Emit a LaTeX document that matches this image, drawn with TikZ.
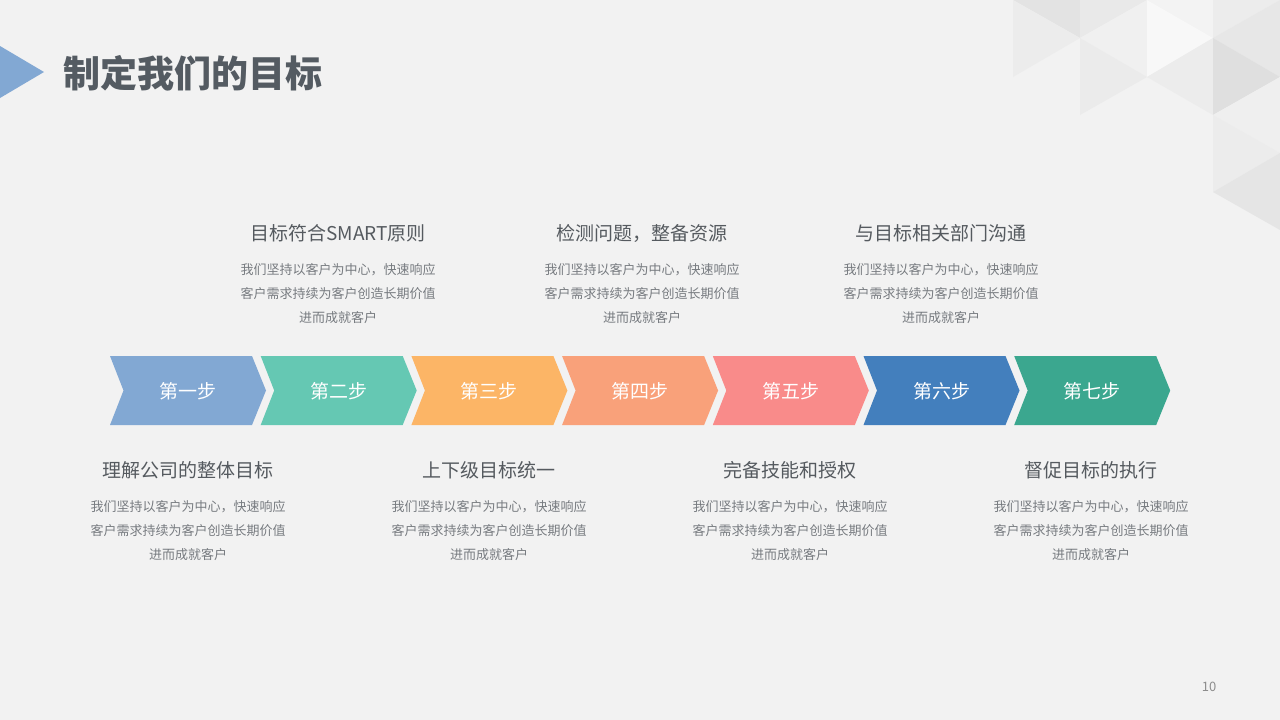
\documentclass[tikz,border=0pt]{standalone}
\usepackage{fontspec}
\setmainfont{Noto Sans CJK SC}
\definecolor{bg}{HTML}{F2F2F2}
\definecolor{c1}{HTML}{82A8D3}
\definecolor{c2}{HTML}{65C8B3}
\definecolor{c3}{HTML}{FCB566}
\definecolor{c4}{HTML}{F9A17A}
\definecolor{c5}{HTML}{F98B8A}
\definecolor{c6}{HTML}{437FBD}
\definecolor{c7}{HTML}{3BA78F}
\definecolor{titlecol}{HTML}{545B62}
\definecolor{headcol}{HTML}{555A5F}
\definecolor{bodycol}{HTML}{777B80}
\definecolor{pagecol}{HTML}{8C8C8C}
\tikzset{
  steplabel/.style={text=white,font=\fontsize{19}{22}\selectfont,inner sep=0pt},
  headtext/.style={text=headcol,font=\fontsize{19}{22}\selectfont,inner sep=0pt},
  bodytext/.style={text=bodycol,font=\fontsize{13}{24}\selectfont,align=center,inner sep=0pt},
}
\begin{document}
\begin{tikzpicture}[x=1pt,y=-1pt]
\fill[bg] (0,0) rectangle (1280,720);
\useasboundingbox (0,0) rectangle (1280,720);
% decorative triangles, top right
\fill[fill={rgb,255:red,227;green,227;blue,227}] (1013,0) -- (1080,0) -- (1080,38) -- cycle;
\fill[fill={rgb,255:red,236;green,236;blue,236}] (1013,0) -- (1013,77) -- (1080,38) -- cycle;
\fill[fill={rgb,255:red,233;green,233;blue,233}] (1080,0) -- (1080,38) -- (1147,0) -- cycle;
\fill[fill={rgb,255:red,240;green,240;blue,240}] (1147,0) -- (1147,77) -- (1080,38) -- cycle;
\fill[fill={rgb,255:red,235;green,235;blue,235}] (1080,38) -- (1080,115) -- (1147,77) -- cycle;
\fill[fill={rgb,255:red,243;green,243;blue,243}] (1147,0) -- (1213,0) -- (1213,38) -- cycle;
\fill[fill={rgb,255:red,248;green,248;blue,248}] (1147,0) -- (1147,77) -- (1213,38) -- cycle;
\fill[fill={rgb,255:red,236;green,236;blue,236}] (1213,38) -- (1213,115) -- (1147,77) -- cycle;
\fill[fill={rgb,255:red,236;green,236;blue,236}] (1213,0) -- (1280,0) -- (1213,38) -- cycle;
\fill[fill={rgb,255:red,231;green,231;blue,231}] (1213,38) -- (1280,0) -- (1280,77) -- cycle;
\fill[fill={rgb,255:red,223;green,223;blue,223}] (1213,38) -- (1213,115) -- (1280,77) -- cycle;
\fill[fill={rgb,255:red,239;green,239;blue,239}] (1213,115) -- (1280,77) -- (1280,153) -- cycle;
\fill[fill={rgb,255:red,236;green,236;blue,236}] (1213,115) -- (1213,192) -- (1280,153) -- cycle;
\fill[fill={rgb,255:red,229;green,229;blue,229}] (1213,192) -- (1280,153) -- (1280,230) -- cycle;
% title
\fill[c1] (0,46) -- (44,72) -- (0,98) -- cycle;
\node[anchor=west,text=titlecol,font=\fontsize{37}{40}\selectfont\bfseries,inner sep=0pt] (title) at (63,73) {制定我们的目标};
% chevrons
\foreach \i/\c/\t in {0/c1/第一步,1/c2/第二步,2/c3/第三步,3/c4/第四步,4/c5/第五步,5/c6/第六步,6/c7/第七步}{
  \pgfmathsetmacro\xl{110+150.7*\i}
  \fill[\c] (\xl,356) -- ++(142,0) -- ++(14,34.5) -- ++(-14,34.5) -- ++(-142,0) -- ++(13.5,-34.5) -- cycle;
  \node[steplabel] (s\i) at (\xl+78,391) {\t};
}
% top texts
\node[headtext] (h2) at (338,233) {目标符合SMART原则};
\node[bodytext] (b2) at (338,294) {我们坚持以客户为中心，快速响应\\客户需求持续为客户创造长期价值\\进而成就客户};
\node[headtext] (h4) at (642,233) {检测问题，整备资源};
\node[bodytext] (b4) at (642,294) {我们坚持以客户为中心，快速响应\\客户需求持续为客户创造长期价值\\进而成就客户};
\node[headtext] (h6) at (941,233) {与目标相关部门沟通};
\node[bodytext] (b6) at (941,294) {我们坚持以客户为中心，快速响应\\客户需求持续为客户创造长期价值\\进而成就客户};
% bottom texts
\node[headtext] (h1) at (188,470) {理解公司的整体目标};
\node[bodytext] (b1) at (188,531) {我们坚持以客户为中心，快速响应\\客户需求持续为客户创造长期价值\\进而成就客户};
\node[headtext] (h3) at (489,470) {上下级目标统一};
\node[bodytext] (b3) at (489,531) {我们坚持以客户为中心，快速响应\\客户需求持续为客户创造长期价值\\进而成就客户};
\node[headtext] (h5) at (790,470) {完备技能和授权};
\node[bodytext] (b5) at (790,531) {我们坚持以客户为中心，快速响应\\客户需求持续为客户创造长期价值\\进而成就客户};
\node[headtext] (h7) at (1091,470) {督促目标的执行};
\node[bodytext] (b7) at (1091,531) {我们坚持以客户为中心，快速响应\\客户需求持续为客户创造长期价值\\进而成就客户};
% page number
\node[text=pagecol,font=\fontsize{13}{15}\selectfont,inner sep=0pt] (page) at (1209,687) {10};
\end{tikzpicture}
\end{document}
